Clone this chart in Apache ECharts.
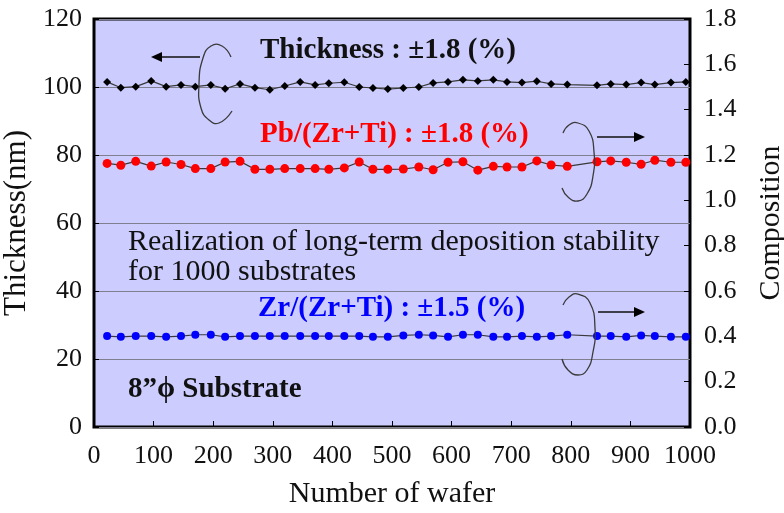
<!DOCTYPE html>
<html>
<head>
<meta charset="utf-8">
<title>Deposition stability</title>
<script src="https://cdn.jsdelivr.net/npm/echarts@6.0.0/dist/echarts.min.js"></script>
<style>
  html, body { margin: 0; padding: 0; background: #fff; }
  #chart { width: 784px; height: 513px; }
</style>
</head>
<body>
<div id="chart"></div>
<script>
// wafer number of each measured point
const wafers = [22, 45, 70, 96, 121, 146, 170, 196, 220, 245, 270, 295, 320, 346, 371, 394, 420, 445, 468, 493,
  519, 545, 569, 594, 619, 644, 670, 693, 718, 743, 767, 794, 844, 867, 893, 918, 941, 968, 993]

// film thickness (nm), left axis
const thickness = [101.5, 99.8, 100.1, 101.8, 100.1, 100.6, 100.1, 100.6, 99.5, 100.9, 99.8, 99.2, 100.3, 101.5, 100.6, 101.1, 101.4, 100.0, 99.7, 99.4,
  99.7, 100.0, 101.2, 101.5, 102.1, 101.8, 102.1, 101.5, 101.3, 101.7, 100.9, 100.7, 100.5, 100.9, 100.7, 101.3, 100.7, 101.3, 101.5]

// Pb/(Zr+Ti), right axis
const pbRatio = [1.163, 1.155, 1.172, 1.151, 1.169, 1.158, 1.140, 1.140, 1.169, 1.172, 1.137, 1.137, 1.140, 1.140, 1.140, 1.137, 1.143, 1.169, 1.137, 1.137,
  1.138, 1.147, 1.135, 1.168, 1.170, 1.133, 1.150, 1.147, 1.147, 1.174, 1.156, 1.150, 1.170, 1.174, 1.168, 1.159, 1.177, 1.168, 1.168]

// Zr/(Zr+Ti), right axis
const zrRatio = [0.401, 0.398, 0.401, 0.401, 0.398, 0.401, 0.407, 0.407, 0.398, 0.401, 0.401, 0.401, 0.401, 0.401, 0.401, 0.401, 0.401, 0.401, 0.398, 0.398,
  0.404, 0.407, 0.404, 0.398, 0.407, 0.407, 0.398, 0.398, 0.401, 0.398, 0.401, 0.407, 0.401, 0.401, 0.398, 0.404, 0.401, 0.398, 0.398]

const FONT = '"Liberation Serif", "DejaVu Serif", serif'
const LINE = '#3a3a3a'

const pairs = (ys) => wafers.map((w, i) => [w, ys[i]])

const chart = echarts.init(document.getElementById('chart'))

// text notes, braces and arrows drawn on top of the plot
function note(text, x, y, color, bold) {
  return {
    type: 'text',
    x: x,
    y: y,
    z: 100,
    style: {
      text: text,
      fill: color,
      font: (bold ? 'bold 29px ' : '30px ') + FONT,
      textAlign: 'left',
      textVerticalAlign: 'middle'
    }
  }
}

function brace(points) {
  return {
    type: 'polyline',
    z: 100,
    shape: { points: points, smooth: 0.5 },
    style: { stroke: LINE, lineWidth: 1.3, fill: null }
  }
}

function arrow(x1, x2, y) {
  const dir = x2 > x1 ? 1 : -1
  return [
    {
      type: 'line',
      z: 100,
      shape: { x1: x1, y1: y, x2: x2 - dir * 8, y2: y },
      style: { stroke: '#111', lineWidth: 1.5 }
    },
    {
      type: 'polygon',
      z: 100,
      shape: { points: [[x2, y], [x2 - dir * 11, y - 5], [x2 - dir * 11, y + 5]] },
      style: { fill: '#000' }
    }
  ]
}

const option = {
  animation: false,
  backgroundColor: '#fff',
  textStyle: { fontFamily: FONT },
  grid: {
    left: 94,
    right: 94,
    top: 19,
    bottom: 86,
    show: true,
    outerBoundsMode: 'none',
    containLabel: false,
    backgroundColor: '#ccccff',
    borderColor: '#000',
    borderWidth: 3
  },
  xAxis: {
    type: 'value',
    min: 0,
    max: 1000,
    interval: 100,
    name: 'Number of wafer',
    nameLocation: 'middle',
    nameGap: 52,
    nameTextStyle: { fontSize: 30, color: '#111', fontFamily: FONT },
    axisLine: { show: false },
    axisTick: { inside: true, length: 6, lineStyle: { color: '#000' } },
    axisLabel: { fontSize: 26, color: '#111', margin: 16, fontFamily: FONT, formatter: (v) => String(v) },
    splitLine: { show: false }
  },
  yAxis: [
    {
      type: 'value',
      min: 0,
      max: 120,
      interval: 20,
      name: 'Thickness(nm)',
      nameLocation: 'middle',
      nameGap: 57,
      nameTextStyle: { fontSize: 31, color: '#111', fontFamily: FONT },
      axisLine: { show: false },
      axisTick: { show: true, inside: true, length: 5, lineStyle: { color: '#000' } },
      axisLabel: { fontSize: 26, color: '#111', margin: 12, fontFamily: FONT },
      splitLine: { show: true, lineStyle: { color: '#7f7f8f', width: 1 } }
    },
    {
      type: 'value',
      min: 0,
      max: 1.8,
      interval: 0.2,
      position: 'right',
      name: 'Composition',
      nameLocation: 'middle',
      nameGap: 66,
      nameRotate: 90,
      nameTextStyle: { fontSize: 30, color: '#111', fontFamily: FONT },
      axisLine: { show: false },
      axisTick: { show: true, inside: true, length: 6, lineStyle: { color: '#000' } },
      axisLabel: {
        fontSize: 26,
        color: '#111',
        margin: 14,
        fontFamily: FONT,
        formatter: (v) => v.toFixed(1)
      },
      splitLine: { show: false }
    }
  ],
  series: [
    {
      name: 'Thickness',
      type: 'line',
      yAxisIndex: 0,
      data: pairs(thickness),
      symbol: 'diamond',
      symbolSize: 8,
      itemStyle: { color: '#000' },
      lineStyle: { color: LINE, width: 1.2 }
    },
    {
      name: 'Pb/(Zr+Ti)',
      type: 'line',
      yAxisIndex: 1,
      data: pairs(pbRatio),
      symbol: 'circle',
      symbolSize: 9,
      itemStyle: { color: '#ff0000' },
      lineStyle: { color: LINE, width: 1.2 }
    },
    {
      name: 'Zr/(Zr+Ti)',
      type: 'line',
      yAxisIndex: 1,
      data: pairs(zrRatio),
      symbol: 'circle',
      symbolSize: 8,
      itemStyle: { color: '#0000ff' },
      lineStyle: { color: LINE, width: 1.2 }
    }
  ],
  graphic: [
    note('Thickness : \u00b11.8 (%)', 260, 51, '#111', true),
    note('Pb/(Zr+Ti) : \u00b11.8 (%)', 260, 135, '#ff0000', true),
    note('Realization of long-term deposition stability', 128, 242, '#111', false),
    note('for 1000 substrates', 128, 272, '#111', false),
    note('Zr/(Zr+Ti) : \u00b11.5 (%)', 258, 309, '#0000ff', true),
    note('8\u201d\u03d5 Substrate', 128, 390, '#111', true),
    brace([[231, 57], [222, 46], [211, 46], [203, 58], [199, 84], [201, 108], [209, 120], [219, 123], [232, 111]]),
    brace([[563, 133], [569, 125], [578, 123], [589, 131], [594, 152], [593, 176], [587, 194], [578, 201], [568, 197], [562, 188]]),
    brace([[563, 305], [569, 297], [578, 294], [590, 303], [595, 328], [593, 352], [587, 370], [578, 375], [568, 370], [562, 359]]),
    ...arrow(200, 151, 57),
    ...arrow(597, 645, 137),
    ...arrow(598, 645, 312)
  ]
}

chart.setOption(option)
</script>
</body>
</html>
